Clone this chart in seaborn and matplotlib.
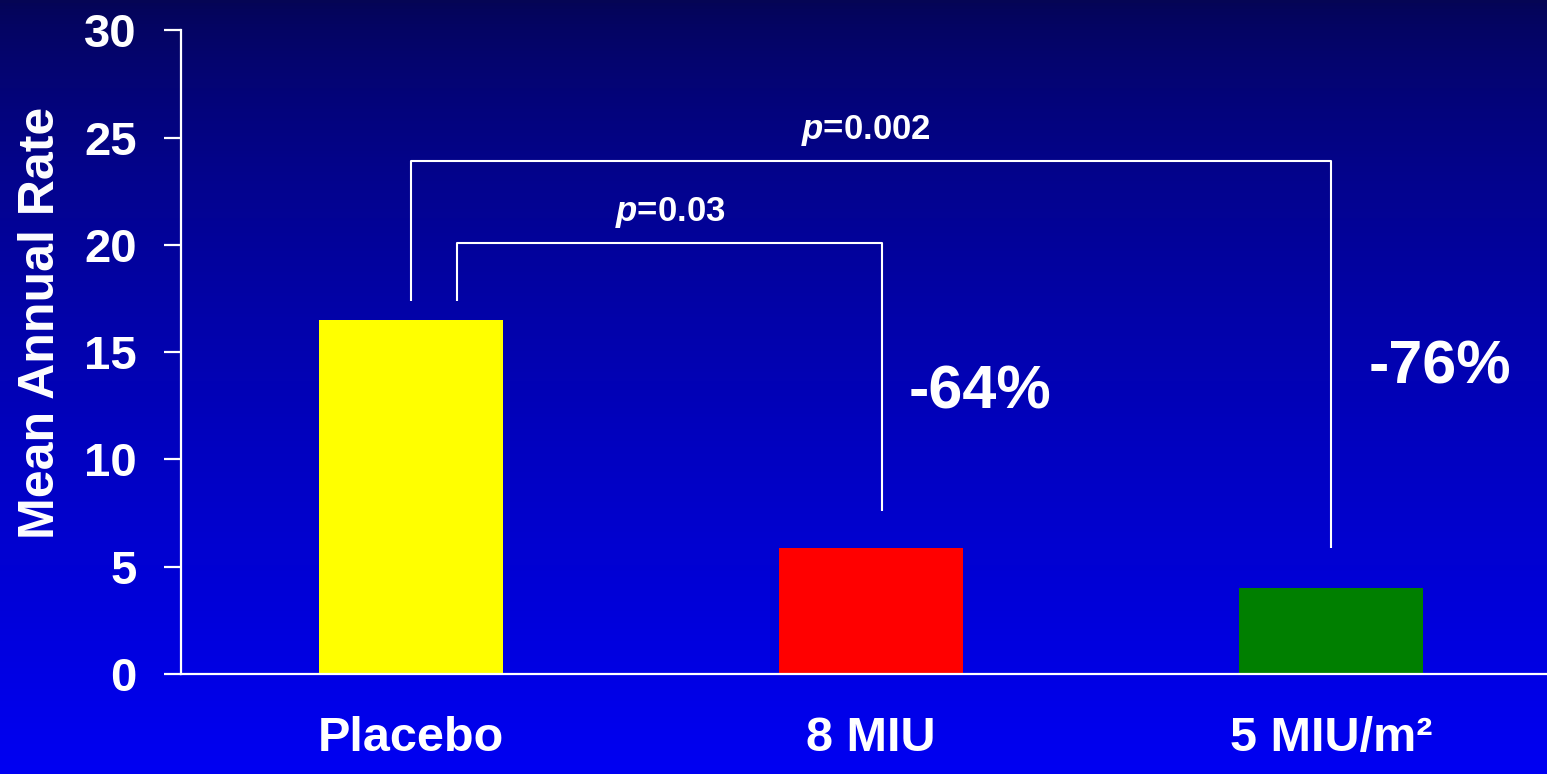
import matplotlib
matplotlib.use("Agg")
import matplotlib.pyplot as plt
import numpy as np
import seaborn as sns

# values
groups = ["Placebo", "8 MIU", "5 MIU/m\u00b2"]
annual_rate = [16.5, 5.9, 4.0]
bar_colors = ["#ffff00", "#ff0000", "#007f00"]
reductions = ["-64%", "-76%"]
p_labels = ["$p$=0.03", "$p$=0.002"]
y_ticks = [0, 5, 10, 15, 20, 25, 30]

sns.set_theme(style="white")
plt.rcParams["font.family"] = ["Liberation Sans", "DejaVu Sans"]
plt.rcParams["font.weight"] = "bold"
plt.rcParams["mathtext.fontset"] = "custom"
plt.rcParams["mathtext.it"] = "Liberation Sans:italic:bold"
plt.rcParams["mathtext.rm"] = "Liberation Sans:bold"

fig = plt.figure(figsize=(15.47, 7.74), dpi=100)

# slide background: dark navy at the top fading to bright blue
bg = fig.add_axes([0, 0, 1, 1], zorder=-10)
t = np.linspace(0, 1, 256) ** 0.7
grad = np.zeros((256, 1, 3))
grad[:, 0, 2] = 0.33 + (0.95 - 0.33) * t
grad[:, 0, 0] = 0.02 * (1 - t)
grad[:, 0, 1] = 0.02 * (1 - t)
bg.imshow(grad, aspect="auto", extent=[0, 1, 0, 1], origin="upper")
bg.axis("off")

ax = fig.add_axes([0.117, 0.129, 0.883, 0.832])
ax.set_facecolor("none")

sns.barplot(x=groups, y=annual_rate, hue=groups, palette=bar_colors,
            width=0.4, legend=False, saturation=1, ax=ax)
for p in ax.patches:
    p.set_edgecolor("none")

ax.set_ylim(0, 30)
ax.set_xlim(-0.5, 2.47)
ax.set_yticks(y_ticks)
ax.set_yticklabels([str(v) for v in y_ticks])

for side in ["top", "right"]:
    ax.spines[side].set_visible(False)
for side in ["left", "bottom"]:
    ax.spines[side].set_color("white")
    ax.spines[side].set_linewidth(1.6)

ax.tick_params(axis="y", colors="white", labelsize=34, length=12,
               width=1.6, pad=20, left=True)
ax.tick_params(axis="x", colors="white", labelsize=35, length=0, pad=30)
for lab in ax.get_xticklabels() + ax.get_yticklabels():
    lab.set_fontweight("bold")

ax.set_ylabel("Mean Annual Rate", color="white", fontsize=36, fontweight="bold")
ax.yaxis.set_label_coords(-0.086, 0.545)
ax.set_xlabel("")

# significance brackets
line_kw = dict(color="white", lw=1.5, solid_capstyle="butt")
base = annual_rate[0] + 0.9
ax.plot([0.1, 0.1, 1.024, 1.024], [base, 20.1, 20.1, annual_rate[1] + 1.7], **line_kw)
ax.plot([0.0, 0.0, 2.0, 2.0], [base, 23.9, 23.9, annual_rate[2] + 1.9], **line_kw)

ax.text(0.563, 20.7, p_labels[0], color="white", fontsize=25,
        fontweight="bold", ha="center", va="bottom")
ax.text(0.99, 24.5, p_labels[1], color="white", fontsize=25,
        fontweight="bold", ha="center", va="bottom")

ax.text(1.237, 13.1, reductions[0], color="white", fontsize=44,
        fontweight="bold", ha="center", va="center")
ax.text(2.237, 14.25, reductions[1], color="white", fontsize=44,
        fontweight="bold", ha="center", va="center")

fig.savefig("out.png", dpi=100)
